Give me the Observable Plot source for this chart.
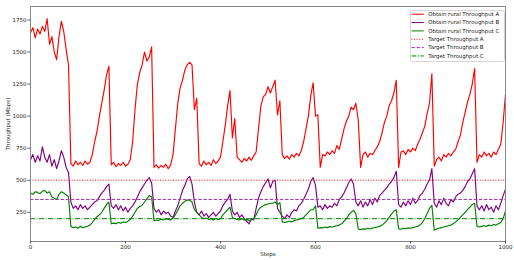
<!DOCTYPE html>
<html><head><meta charset="utf-8">
<script src="https://cdn.jsdelivr.net/npm/d3@7"></script>
<script src="https://cdn.jsdelivr.net/npm/@observablehq/plot@0.6"></script>
<style>
body{margin:0;background:#fff;font-family:"DejaVu Sans",sans-serif;}
#wrap{position:relative;width:514px;height:260px;}
#legend{position:absolute;left:409.5px;top:10px;}
</style></head><body><div id="wrap"></div>
<script>
// x positions: every 5 steps from 0 to 1000
const stepStart = 0, stepEnd = 1000, stepSize = 5;

const throughputA = [
1650,1690,1610,1680,1640,1700,1660,1760,1560,1620,
1500,1440,1620,1740,1660,1520,1400,630,610,650,
620,640,615,650,625,640,700,800,880,1000,
1100,1200,1320,1390,620,640,605,630,615,640,
610,625,660,800,1050,1250,1340,1400,1500,1430,
1460,1540,600,620,595,615,600,625,590,620,
700,900,1100,1220,1280,1360,1400,1420,1400,1050,
1140,630,610,650,620,640,615,660,630,650,
680,800,930,1080,1200,830,980,680,660,640,
670,650,680,655,690,720,900,1080,1150,1170,
1230,1180,1230,1280,1010,1120,700,670,690,665,
700,680,710,690,730,800,900,1000,1160,1260,
1000,1010,600,700,690,720,700,730,710,770,
740,820,900,960,1000,1070,1050,1100,970,600,
700,720,680,710,700,730,760,800,870,950,
1000,1080,1120,1180,1280,600,720,730,700,740,
720,750,730,780,820,870,920,1020,1100,1330,
610,660,680,650,700,680,710,690,720,740,
800,850,950,1030,1110,1170,1250,1370,640,700,
680,720,690,710,680,720,700,740,780,950,
1170];

const throughputB = [
660,700,640,690,650,760,680,640,700,610,
660,590,650,730,680,600,560,330,280,300,
270,310,280,300,270,290,310,330,340,370,
400,420,450,470,300,280,310,270,300,260,
290,250,280,300,330,370,410,440,470,500,
520,480,280,250,270,230,260,240,250,220,
210,260,300,360,420,460,510,530,470,330,
250,230,260,220,240,210,230,250,220,240,
260,300,330,350,390,260,230,250,210,230,
200,180,160,200,190,280,360,410,450,480,
510,440,490,500,280,250,220,200,230,210,
250,270,260,300,320,350,390,430,490,520,
460,290,300,270,310,280,300,290,320,300,
350,370,400,440,480,510,470,330,300,340,
290,330,300,350,310,360,330,380,400,420,
440,470,490,520,570,310,290,330,300,340,
310,360,320,340,380,400,430,470,500,590,
320,290,340,310,360,320,300,350,330,370,
390,400,420,450,490,510,550,590,300,270,
300,260,310,270,290,250,300,270,320,380,
430];

const throughputC = [
400,390,410,405,395,415,420,400,410,370,
360,350,390,410,400,385,370,140,130,135,
125,140,130,135,140,150,170,195,215,230,
250,280,310,330,160,165,160,170,165,175,
170,180,195,220,250,280,295,305,330,355,
380,370,185,190,185,195,190,200,195,190,
205,230,265,300,320,335,345,345,330,270,
250,230,210,200,205,195,200,190,200,195,
200,230,250,270,290,210,200,195,190,200,
190,195,185,190,200,230,270,290,300,310,
315,320,320,330,310,325,175,170,175,180,
175,185,190,195,200,210,230,250,270,270,
300,125,130,128,135,130,138,135,140,145,
150,160,180,200,230,250,265,240,120,115,
120,118,125,120,128,130,135,140,150,165,
185,210,235,260,270,120,118,125,122,128,
125,130,135,140,150,170,200,240,280,305,
110,120,125,130,135,140,145,150,160,175,
190,210,230,250,270,290,310,320,140,135,
140,145,140,150,145,155,150,160,170,200,
260];

const targetA = 500, targetB = 350, targetC = 200;
const xTicks = [0, 200, 400, 600, 800, 1000];
const yTicks = [250, 500, 750, 1000, 1250, 1500, 1750];
const legendLabels = ["Obtain rural Throughput A","Obtain rural Throughput B","Obtain rural Throughput C","Target Throughput A","Target Throughput B","Target Throughput C"];
const legendColors = ["red","purple","green","red","purple","green"];
const legendDash = [null,null,null,"1,1.6","3.5,1.6","5,1.5,1,1.5"];

const steps = d3.range(stepStart, stepEnd + 1, stepSize);
const rows = (vals) => steps.map((s, i) => ({step: s, value: vals[i]}));

const font = "DejaVu Sans";
const chart = Plot.plot({
  width: 514, height: 260,
  marginLeft: 30, marginRight: 9, marginTop: 6, marginBottom: 19,
  style: {fontFamily: font, fontSize: "5.5px", color: "#222", background: "white", overflow: "visible"},
  x: {domain: [0, 1000]},
  y: {domain: [22, 1855]},
  marks: [
    Plot.line(rows(throughputA), {x: "step", y: "value", stroke: "red", strokeWidth: 1.15}),
    Plot.line(rows(throughputB), {x: "step", y: "value", stroke: "purple", strokeWidth: 1.15}),
    Plot.line(rows(throughputC), {x: "step", y: "value", stroke: "green", strokeWidth: 1.15}),
    Plot.ruleY([targetA], {stroke: "red", strokeWidth: 1, strokeDasharray: legendDash[3]}),
    Plot.ruleY([targetB], {stroke: "#9a3a9a", strokeWidth: 1, strokeDasharray: legendDash[4]}),
    Plot.ruleY([targetC], {stroke: "green", strokeWidth: 1, strokeDasharray: legendDash[5]}),
    Plot.frame({stroke: "#888", strokeWidth: 1}),
    Plot.axisX({ticks: xTicks, tickFormat: d3.format("d"), tickSize: 2.5, tickPadding: 1.5, label: null, stroke: "#555"}),
    Plot.axisY({ticks: yTicks, tickFormat: d3.format("d"), tickSize: 2.5, tickPadding: 1.5, label: null, stroke: "#555"}),
    Plot.text(["Steps"], {frameAnchor: "bottom", dy: 14, fontSize: 5.5, fill: "#222"}),
    Plot.text(["Throughput (Mbps)"], {frameAnchor: "left", dx: -22, rotate: -90, textAnchor: "middle", lineAnchor: "middle", fontSize: 5.5, fill: "#222"})
  ]
});
const wrap = document.getElementById("wrap");
wrap.appendChild(chart);

// legend
const lg = d3.select(wrap).append("svg").attr("id", "legend")
  .attr("width", 95).attr("height", 52)
  .style("font-family", font).style("font-size", "5.4px");
lg.append("rect").attr("x", 0.5).attr("y", 0.5).attr("width", 94).attr("height", 51)
  .attr("rx", 2).attr("fill", "rgba(255,255,255,0.85)").attr("stroke", "#d4d4d4");
legendLabels.forEach((lab, i) => {
  const cy = 4.2 + i * 8.35;
  lg.append("line").attr("x1", 1.5).attr("x2", 13.8).attr("y1", cy).attr("y2", cy)
    .attr("stroke", i === 4 ? "#9a3a9a" : legendColors[i]).attr("stroke-width", 1)
    .attr("stroke-dasharray", legendDash[i]);
  lg.append("text").attr("x", 18.3).attr("y", cy).attr("dy", "0.35em")
    .attr("fill", "#222").text(lab);
});
</script></body></html>
